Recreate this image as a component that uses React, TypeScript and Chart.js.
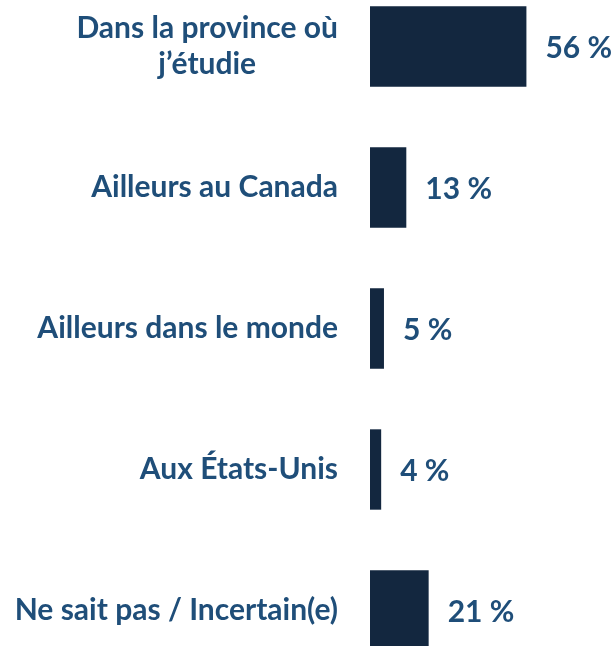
import React, { useEffect, useRef } from "react";
import { Chart, registerables } from "chart.js";

Chart.register(...registerables);

const categories: (string | string[])[] = [
  ["Dans la province où", "j’étudie"],
  "Ailleurs au Canada",
  "Ailleurs dans le monde",
  "Aux États-Unis",
  "Ne sait pas / Incertain(e)",
];
const values = [56, 13, 5, 4, 21];
const valueLabels = ["56 %", "13 %", "5 %", "4 %", "21 %"];

const TEXT_COLOR = "#1F4E79";
const BAR_COLOR = "#13273F";
const FONT_FAMILY = "Lato, 'Noto Sans', sans-serif";
const FONT_SIZE = 30;

const labelsPlugin = {
  id: "customLabels",
  afterDatasetsDraw(chart: any) {
    const { ctx } = chart;
    const yScale = chart.scales.y;
    const meta = chart.getDatasetMeta(0);
    ctx.save();
    ctx.font = `bold ${FONT_SIZE}px ${FONT_FAMILY}`;
    ctx.fillStyle = TEXT_COLOR;
    ctx.textBaseline = "middle";
    const lineH = 36;
    const rightX = chart.chartArea.left - 32;
    categories.forEach((cat, i) => {
      const yc = yScale.getPixelForValue(i);
      const lines = Array.isArray(cat) ? cat : [cat];
      const widths = lines.map((l) => ctx.measureText(l).width);
      const maxW = Math.max(...widths);
      const cx = rightX - maxW / 2;
      ctx.textAlign = "center";
      lines.forEach((l, j) => {
        const y = yc + (j - (lines.length - 1) / 2) * lineH;
        ctx.fillText(l, cx, y);
      });
      const bar = meta.data[i];
      ctx.textAlign = "left";
      ctx.fillText(valueLabels[i], bar.x + 19, yc + 2);
    });
    ctx.restore();
  },
};

export default function App() {
  const canvasRef = useRef<HTMLCanvasElement | null>(null);
  useEffect(() => {
    if (!canvasRef.current) return;
    const chart = new Chart(canvasRef.current, {
      type: "bar",
      data: {
        labels: categories as any,
        datasets: [
          {
            data: values,
            backgroundColor: BAR_COLOR,
            borderWidth: 0,
            barPercentage: 0.57,
            categoryPercentage: 1,
          },
        ],
      },
      options: {
        indexAxis: "y",
        animation: false,
        responsive: false,
        maintainAspectRatio: false,
        layout: { padding: 0 },
        plugins: {
          legend: { display: false },
          tooltip: { enabled: false },
        },
        scales: {
          x: {
            display: false,
            min: 0,
            max: 87,
          },
          y: {
            display: true,
            grid: { display: false },
            border: { display: false },
            ticks: { display: false },
            afterFit(scale: any) {
              scale.width = 370;
            },
          },
        },
      },
      plugins: [labelsPlugin],
    });
    return () => chart.destroy();
  }, []);
  return (
    <div
      style={{
        position: "fixed",
        left: 0,
        top: 0,
        width: 613,
        height: 646,
        overflow: "hidden",
        background: "#fff",
      }}
    >
      <div style={{ position: "absolute", left: 0, top: -24, width: 613, height: 705 }}>
        <canvas ref={canvasRef} width={613} height={705} style={{ display: "block" }} />
      </div>
    </div>
  );
}
